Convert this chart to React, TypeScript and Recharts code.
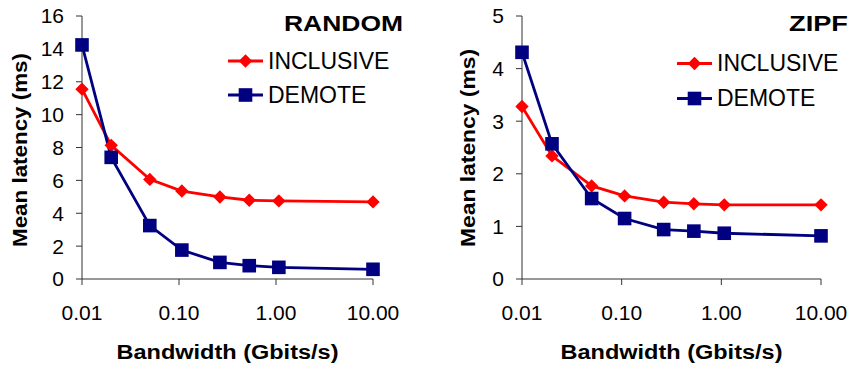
import React from 'react';
import { LineChart, Line, XAxis, YAxis, Legend, Customized } from 'recharts';

const bandwidth = [0.01, 0.02, 0.05, 0.107, 0.264, 0.53, 1.07, 10];
const randomInclusive = [11.55, 8.13, 6.06, 5.35, 4.99, 4.79, 4.75, 4.69];
const randomDemote = [14.24, 7.4, 3.25, 1.76, 1.01, 0.81, 0.71, 0.59];
const zipfInclusive = [3.28, 2.34, 1.77, 1.58, 1.46, 1.43, 1.41, 1.41];
const zipfDemote = [4.31, 2.57, 1.53, 1.15, 0.94, 0.91, 0.87, 0.82];
const xTicks = [0.01, 0.1, 1, 10];
const randomYTicks = [0, 2, 4, 6, 8, 10, 12, 14, 16];
const zipfYTicks = [0, 1, 2, 3, 4, 5];
const seriesNames = ['INCLUSIVE', 'DEMOTE'];

const FONT = '"Liberation Sans", Arial, sans-serif';
const RED = '#FF0000';
const NAVY = '#000080';
const AXIS = '#333333';

const Diamond = (p: any) => {
  const { cx, cy } = p;
  if (cx == null || cy == null) return null;
  const r = 6.7;
  return <polygon points={`${cx},${cy - r} ${cx + r},${cy} ${cx},${cy + r} ${cx - r},${cy}`} fill={RED} />;
};
const Square = (p: any) => {
  const { cx, cy } = p;
  if (cx == null || cy == null) return null;
  const r = 6.8;
  return <rect x={cx - r} y={cy - r} width={2 * r} height={2 * r} fill={NAVY} />;
};

type PanelProps = {
  title: string;
  titleLen: number;
  inc: number[];
  dem: number[];
  yTicks: number[];
  yAxisWidth: number;
  marginRight: number;
  yLabelX: number;
  yLabelY: number;
  yLabelLen: number;
  legendLeft: number;
  legendTop: number;
  rowH: number;
};

const Panel = (props: PanelProps) => {
  const data = bandwidth.map((b, i) => ({ bw: b, inc: props.inc[i], dem: props.dem[i] }));
  const yMax = props.yTicks[props.yTicks.length - 1];
  const tickStyle = { fontSize: 21, fill: '#000', fontFamily: FONT };
  return (
    <LineChart
      width={426}
      height={367}
      data={data}
      margin={{ top: 16, right: props.marginRight, bottom: 0, left: 0 }}
    >
      <XAxis
        dataKey="bw"
        type="number"
        scale="log"
        domain={[0.01, 10]}
        ticks={xTicks}
        tickFormatter={(v: number) => v.toFixed(2)}
        tick={tickStyle}
        tickSize={6}
        tickMargin={20}
        height={88}
        stroke={AXIS}
        interval={0}
        label={{
          content: (lp: any) => {
            const vb = lp.viewBox || {};
            return (
              <text
                x={vb.x + vb.width / 2}
                y={359}
                textAnchor="middle"
                fontSize={20}
                fontWeight="bold"
                fontFamily={FONT}
                fill="#000"
                textLength={222}
                lengthAdjust="spacingAndGlyphs"
              >
                Bandwidth (Gbits/s)
              </text>
            );
          },
        }}
      />
      <YAxis
        type="number"
        domain={[0, yMax]}
        ticks={props.yTicks}
        tick={tickStyle}
        tickSize={6}
        tickMargin={12}
        width={props.yAxisWidth}
        stroke={AXIS}
        interval={0}
        label={{
          content: () => (
            <text
              x={props.yLabelX}
              y={props.yLabelY}
              transform={`rotate(-90 ${props.yLabelX} ${props.yLabelY})`}
              textAnchor="middle"
              fontSize={21}
              fontWeight="bold"
              fontFamily={FONT}
              fill="#000"
              textLength={props.yLabelLen}
              lengthAdjust="spacingAndGlyphs"
            >
              Mean latency (ms)
            </text>
          ),
        }}
      />
      <Line
        dataKey="inc"
        name={seriesNames[0]}
        stroke={RED}
        strokeWidth={2.8}
        isAnimationActive={false}
        dot={(p: any) => <Diamond key={`d${p.index}`} {...p} />}
        activeDot={false}
      />
      <Line
        dataKey="dem"
        name={seriesNames[1]}
        stroke={NAVY}
        strokeWidth={2.8}
        isAnimationActive={false}
        dot={(p: any) => <Square key={`s${p.index}`} {...p} />}
        activeDot={false}
      />
      <Legend
        layout="vertical"
        align="center"
        verticalAlign="middle"
        wrapperStyle={{ left: props.legendLeft, top: props.legendTop, width: 190, height: 'auto' }}
        content={() => (
          <div>
            {seriesNames.map((name, i) => (
              <div key={name} style={{ display: 'flex', alignItems: 'center', height: props.rowH }}>
                <svg width={40} height={props.rowH} style={{ display: 'block' }}>
                  <line x1={0} y1={props.rowH / 2} x2={35} y2={props.rowH / 2} stroke={i === 0 ? RED : NAVY} strokeWidth={2.8} />
                  {i === 0 ? <Diamond cx={17.5} cy={props.rowH / 2} /> : <Square cx={17.5} cy={props.rowH / 2} />}
                </svg>
                <span style={{ fontSize: 23, fontFamily: FONT, color: '#000', lineHeight: 1 }}>{name}</span>
              </div>
            ))}
          </div>
        )}
      />
      <Customized
        component={() => (
          <text
            x={props.title === 'RANDOM' ? 403 : 422}
            y={31}
            textAnchor="end"
            fontSize={22}
            fontWeight="bold"
            fontFamily={FONT}
            fill="#000"
            textLength={props.titleLen}
            lengthAdjust="spacingAndGlyphs"
          >
            {props.title}
          </text>
        )}
      />
    </LineChart>
  );
};

export default function App() {
  return (
    <div style={{ position: 'absolute', left: 0, top: 0, width: 853, height: 367, background: '#fff' }}>
      <div style={{ position: 'absolute', left: 0, top: 0 }}>
        <Panel
          title="RANDOM"
          titleLen={119}
          inc={randomInclusive}
          dem={randomDemote}
          yTicks={randomYTicks}
          yAxisWidth={82}
          marginRight={53}
          yLabelX={27}
          yLabelY={150}
          yLabelLen={194}
          legendLeft={228}
          legendTop={44}
          rowH={34}
        />
      </div>
      <div style={{ position: 'absolute', left: 426, top: 0 }}>
        <Panel
          title="ZIPF"
          titleLen={59}
          inc={zipfInclusive}
          dem={zipfDemote}
          yTicks={zipfYTicks}
          yAxisWidth={96}
          marginRight={31}
          yLabelX={49}
          yLabelY={148}
          yLabelLen={198}
          legendLeft={251}
          legendTop={46}
          rowH={35}
        />
      </div>
    </div>
  );
}
